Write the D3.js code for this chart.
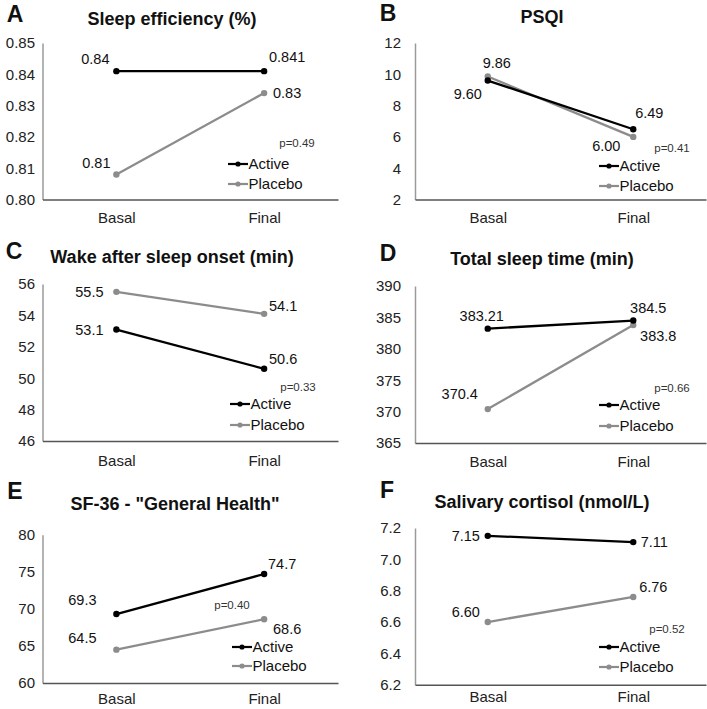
<!DOCTYPE html>
<html><head><meta charset="utf-8">
<script src="https://cdn.jsdelivr.net/npm/d3@7"></script>
<style>
body{margin:0;background:#fff}
svg{display:block}
text{font-family:"Liberation Sans",Arial,Helvetica,sans-serif}
</style>
</head><body><svg id="c" width="707" height="709"></svg>
<script>
// ---------- data ----------
const categories = ["Basal", "Final"];
const seriesNames = ["Active", "Placebo"];
const panelLetters = ["A", "B", "C", "D", "E", "F"];
const panelTitles = ["Sleep efficiency (%)", "PSQI", "Wake after sleep onset (min)", "Total sleep time (min)", "SF-36 - \"General Health\"", "Salivary cortisol (nmol/L)"];
const activeValues = [[0.841, 0.841], [9.60, 6.49], [53.1, 50.6], [383.21, 384.5], [69.3, 74.7], [7.15, 7.11]];
const placeboValues = [[0.808, 0.834], [9.86, 6.00], [55.5, 54.1], [370.4, 383.8], [64.5, 68.6], [6.60, 6.76]];
const activeLabels = [["0.84", "0.841"], ["9.60", "6.49"], ["53.1", "50.6"], ["383.21", "384.5"], ["69.3", "74.7"], ["7.15", "7.11"]];
const placeboLabels = [["0.81", "0.83"], ["9.86", "6.00"], ["55.5", "54.1"], ["370.4", "383.8"], ["64.5", "68.6"], ["6.60", "6.76"]];
const pValues = ["p=0.49", "p=0.41", "p=0.33", "p=0.66", "p=0.40", "p=0.52"];
const yTicks = [[0.80, 0.81, 0.82, 0.83, 0.84, 0.85], [2, 4, 6, 8, 10, 12], [46, 48, 50, 52, 54, 56], [365, 370, 375, 380, 385, 390], [60, 65, 70, 75, 80], [6.2, 6.4, 6.6, 6.8, 7.0, 7.2]];
const yTickFormats = [".2f", "d", "d", "d", "d", ".1f"];

// ---------- layout ----------
const layout = [
  {x0: 42.5, x1: 338, yb: 199.5, yt: 43, tickX: 35, title: [172, 19], letter: [15, 14], catDy: 18, p: [297, 143], leg: [228, 164, 184],
   aOff: [[-21, -12], [23, -14]], pOff: [[-20, -12], [23, 0]]},
  {x0: 415, x1: 706, yb: 199.5, yt: 43, tickX: 401, title: [542, 17], letter: [388, 13], catDy: 18, p: [672, 148], leg: [599, 166, 186],
   aOff: [[-20, 13.5], [16, -16]], pOff: [[9, -13.5], [-27, 9]]},
  {x0: 42.5, x1: 338, yb: 441, yt: 284, tickX: 35, title: [172, 257], letter: [14, 251], catDy: 20, p: [298, 387], leg: [230, 404, 425],
   aOff: [[-27, 0], [19, -10]], pOff: [[-27, 0], [19, -8]]},
  {x0: 415, x1: 706, yb: 443, yt: 286, tickX: 401, title: [542, 259], letter: [388, 253], catDy: 19, p: [672, 388], leg: [599, 405, 426],
   aOff: [[-6, -13], [15, -12.5]], pOff: [[-28, -15], [25, 11]]},
  {x0: 42.5, x1: 338, yb: 683, yt: 534.7, tickX: 35, title: [175, 504], letter: [15, 491], catDy: 16, p: [232, 605], leg: [232, 647, 666],
   aOff: [[-34, -14], [18, -10.5]], pOff: [[-34, -12], [23, 10]]},
  {x0: 415, x1: 706, yb: 684.7, yt: 528, tickX: 401, title: [542, 502], letter: [387, 490], catDy: 12, p: [667, 629], leg: [599, 647, 667],
   aOff: [[-22, 0], [21, 0]], pOff: [[-22, -10], [20, -10]]}
];
const colors = {Active: "#000000", Placebo: "#8c8c8c"};

const svg = d3.select("#c");

panelTitles.forEach((title, i) => {
  const L = layout[i];
  const g = svg.append("g");
  const ticks = yTicks[i];
  const x = d3.scalePoint().domain(categories).range([L.x0, L.x1]).padding(0.5);
  const y = d3.scaleLinear().domain([ticks[0], ticks[ticks.length - 1]]).range([L.yb, L.yt]);

  // letter + title
  g.append("text").attr("x", L.letter[0]).attr("y", L.letter[1]).attr("text-anchor", "middle")
    .attr("dominant-baseline", "central").attr("font-size", 23).attr("font-weight", "bold").attr("fill", "#111").text(panelLetters[i]);
  g.append("text").attr("x", L.title[0]).attr("y", L.title[1]).attr("text-anchor", "middle")
    .attr("dominant-baseline", "central").attr("font-size", 18).attr("font-weight", "bold").attr("fill", "#111").text(title);

  // y axis
  const fmt = d3.format(yTickFormats[i]);
  const yAxis = d3.axisLeft(y).tickValues(ticks).tickFormat(fmt).tickSize(0).tickPadding(0);
  const ya = g.append("g").attr("transform", `translate(${L.x0},0)`).call(yAxis);
  ya.select(".domain").attr("stroke", "#9a9a9a").attr("stroke-width", 1.5);
  ya.selectAll(".tick text").attr("x", L.tickX - L.x0).attr("font-size", 15).attr("fill", "#222")
    .attr("font-family", "Liberation Sans, Arial, sans-serif");

  // x axis
  const xAxis = d3.axisBottom(x).tickSize(0).tickPadding(0);
  const xa = g.append("g").attr("transform", `translate(0,${L.yb})`).call(xAxis);
  xa.select(".domain").attr("stroke", "#555").attr("stroke-width", 1.5);
  xa.selectAll(".tick text").attr("y", L.catDy).attr("dy", "0.35em").attr("font-size", 15).attr("fill", "#222")
    .attr("font-family", "Liberation Sans, Arial, sans-serif");

  const series = [
    {name: "Active", values: activeValues[i], labels: activeLabels[i], off: L.aOff},
    {name: "Placebo", values: placeboValues[i], labels: placeboLabels[i], off: L.pOff}
  ];
  const line = d3.line().x((d, j) => x(categories[j])).y(d => y(d));

  // draw placebo first then active on top
  [series[1], series[0]].forEach(s => {
    g.append("path").attr("d", line(s.values)).attr("fill", "none").attr("stroke", colors[s.name]).attr("stroke-width", 2.3);
    g.selectAll(null).data(s.values).enter().append("circle")
      .attr("cx", (d, j) => x(categories[j])).attr("cy", d => y(d)).attr("r", 3.2).attr("fill", colors[s.name]);
  });
  series.forEach(s => {
    g.selectAll(null).data(s.values).enter().append("text")
      .attr("x", (d, j) => x(categories[j]) + s.off[j][0])
      .attr("y", (d, j) => y(d) + s.off[j][1])
      .attr("dy", "0.35em").attr("text-anchor", "middle").attr("font-size", 14.5).attr("fill", "#111")
      .text((d, j) => s.labels[j]);
  });

  // p-value
  g.append("text").attr("x", L.p[0]).attr("y", L.p[1]).attr("dy", "0.35em").attr("text-anchor", "middle")
    .attr("font-size", 11.5).attr("fill", "#333").text(pValues[i]);

  // legend
  seriesNames.forEach((n, k) => {
    const ly = L.leg[1 + k];
    const lx = L.leg[0];
    g.append("line").attr("x1", lx).attr("x2", lx + 20).attr("y1", ly).attr("y2", ly)
      .attr("stroke", colors[n]).attr("stroke-width", 2.2);
    g.append("circle").attr("cx", lx + 10).attr("cy", ly).attr("r", 2.6).attr("fill", colors[n]);
    g.append("text").attr("x", lx + 20.5).attr("y", ly).attr("dy", "0.35em").attr("font-size", 15).attr("fill", "#111").text(n);
  });
});
</script>
</body></html>
